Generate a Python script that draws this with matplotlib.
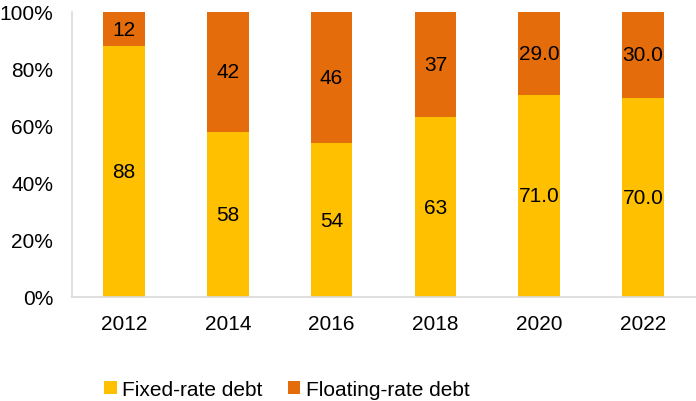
import numpy as np
import matplotlib.pyplot as plt

years = ["2012", "2014", "2016", "2018", "2020", "2022"]
fixed = [88, 58, 54, 63, 71, 70]
floating = [12, 42, 46, 37, 29, 30]
fixed_labels = ["88", "58", "54", "63", "71.0", "70.0"]
floating_labels = ["12", "42", "46", "37", "29.0", "30.0"]

plt.rcParams["font.family"] = ["Liberation Sans", "DejaVu Sans"]

fig = plt.figure(figsize=(6.96, 4.02), dpi=100)
ax = fig.add_axes([72 / 696, 104 / 402, 623 / 696, 285 / 402])

x = np.arange(len(years))
w = 0.4
b1 = ax.bar(x, fixed, w, color="#FFC000", label="Fixed-rate debt")
b2 = ax.bar(x, floating, w, bottom=fixed, color="#E46C0A", label="Floating-rate debt")

fs = 15
for i in range(len(years)):
    ax.text(x[i], fixed[i] / 2, fixed_labels[i], ha="center", va="center", fontsize=fs)
    ax.text(x[i], fixed[i] + floating[i] / 2, floating_labels[i], ha="center", va="center", fontsize=fs)

ax.set_xlim(-0.5, 5.5)
ax.set_ylim(0, 100)
ax.set_yticks(range(0, 101, 20))
ax.set_yticklabels([f"{v}%" for v in range(0, 101, 20)])
ax.set_xticks(x)
ax.set_xticklabels(years)
ax.tick_params(length=0, labelsize=fs)
ax.tick_params(axis="x", pad=12)
ax.tick_params(axis="y", pad=13.5)
for s in ["top", "right"]:
    ax.spines[s].set_visible(False)
for s in ["left", "bottom"]:
    ax.spines[s].set_color("#D9D9D9")
    ax.spines[s].set_linewidth(1.2)

fig.legend(handles=[b1, b2], loc="lower left", bbox_to_anchor=(104 / 696, 2 / 402),
           ncol=2, frameon=False, fontsize=fs, handlelength=0.62, handleheight=0.62,
           handletextpad=0.25, columnspacing=1.2, borderpad=0, borderaxespad=0)

fig.savefig("out.png", dpi=100)
